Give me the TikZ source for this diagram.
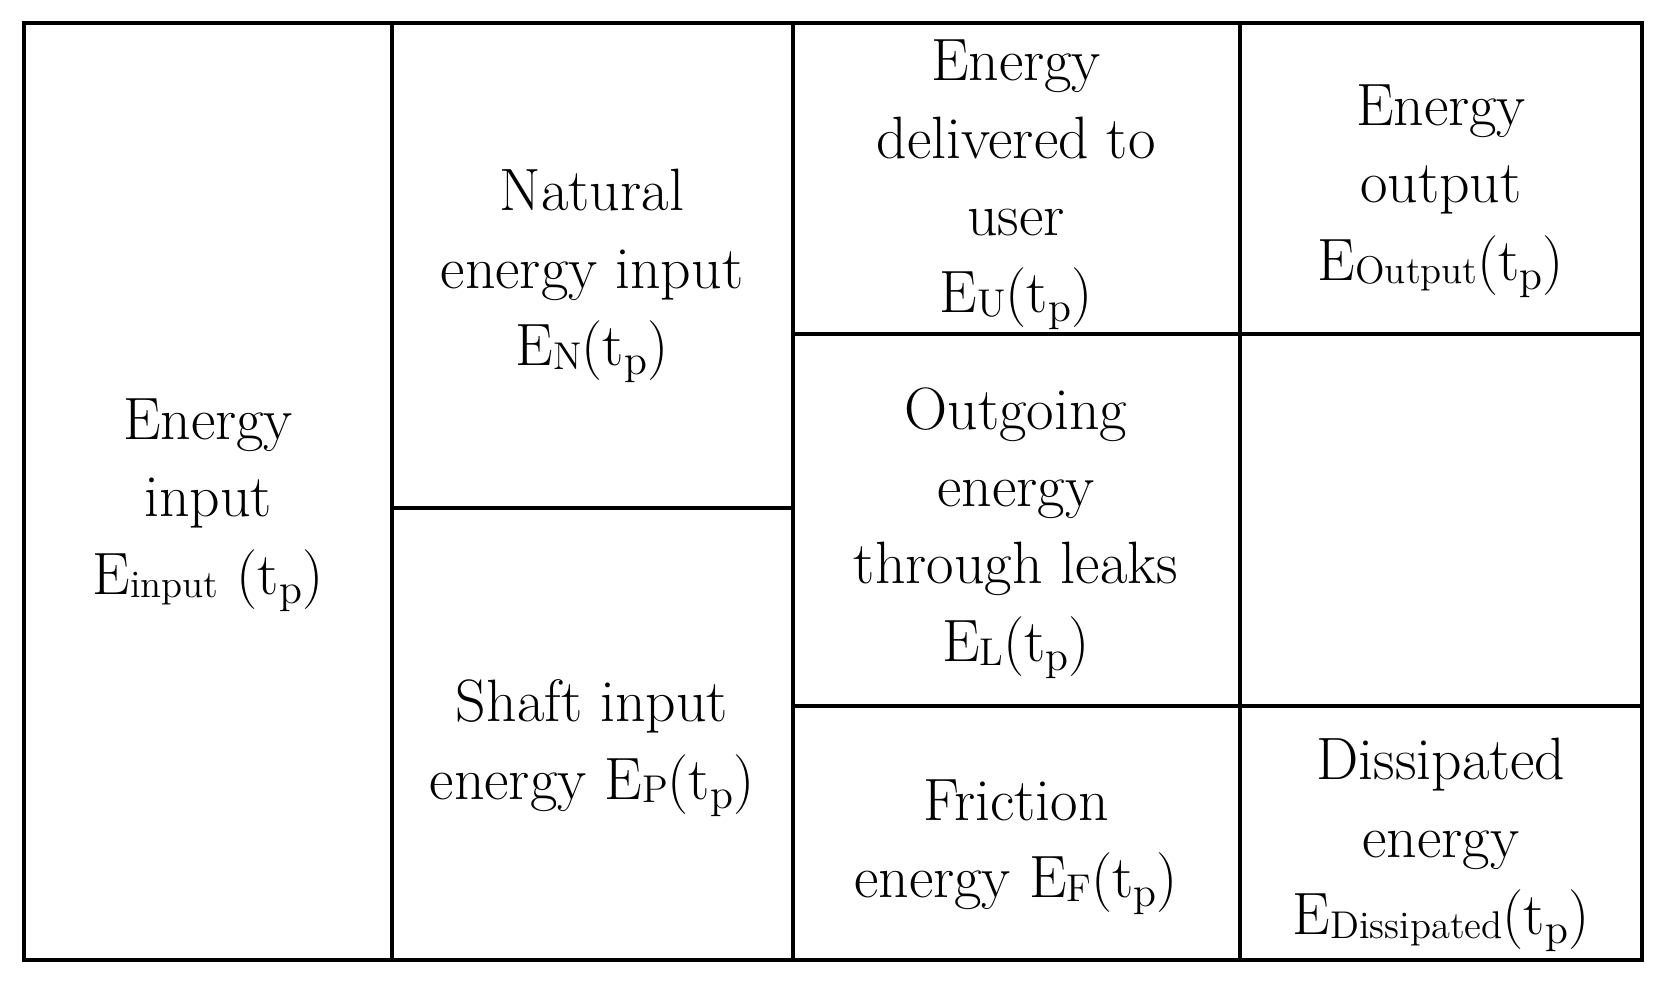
\documentclass[tikz,border=0pt]{standalone}
\usepackage{tikz}

\newcommand{\Esub}[1]{E\raisebox{-0.15ex}{\fontsize{11}{11}\selectfont #1}}
\newcommand{\tpar}{(t\raisebox{-0.35ex}{\fontsize{12}{12}\selectfont p})}

\begin{document}
\begin{tikzpicture}[x=0.01cm, y=-0.01cm,
    cell/.style={align=center, font=\fontsize{17}{22}\selectfont, inner sep=0pt},
    grid/.style={line width=1.3pt, line cap=rect}]

    \useasboundingbox (0,0) rectangle (1665,984);

    % table lines
    \draw [grid] (24,23) rectangle (1642,960);
    \draw [grid] (392,23) -- (392,960);
    \draw [grid] (793,23) -- (793,960);
    \draw [grid] (1240,23) -- (1240,960);
    \draw [grid] (392,508) -- (793,508);
    \draw [grid] (793,334) -- (1642,334);
    \draw [grid] (793,706) -- (1642,706);

    % cell texts
    \node [cell] (ein) at (208,505) {Energy\\input\\\Esub{input} \tpar};
    \node [cell] (enat) at (592,276) {Natural\\energy input\\\Esub{N}\tpar};
    \node [cell] (eshaft) at (592,748) {Shaft input\\energy \Esub{P}\tpar};
    \node [cell] (euser) at (1016,185) {Energy\\delivered to\\user\\\Esub{U}\tpar};
    \node [cell] (eleak) at (1016,533) {Outgoing\\energy\\through leaks\\\Esub{L}\tpar};
    \node [cell] (efric) at (1016,847) {Friction\\energy \Esub{F}\tpar};
    \node [cell] (eout) at (1441,191) {Energy\\output\\\Esub{Output}\tpar};
    \node [cell] (ediss) at (1441,845) {Dissipated\\energy\\\Esub{Dissipated}\tpar};

\end{tikzpicture}
\end{document}
